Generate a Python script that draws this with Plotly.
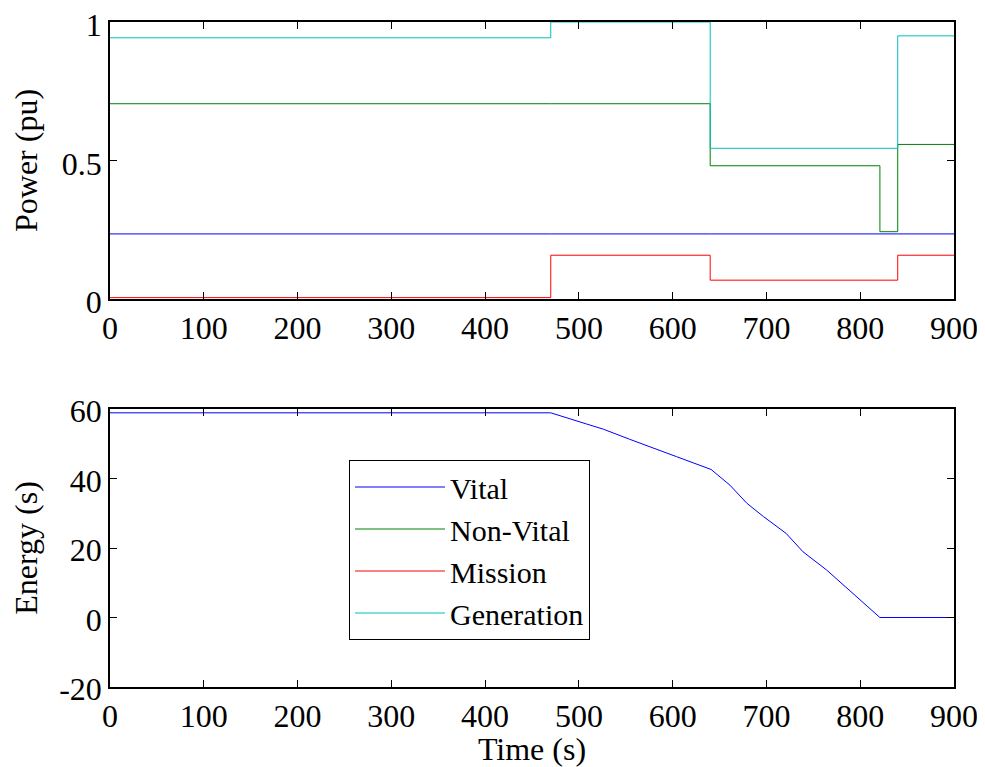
import plotly.graph_objects as go

# ---- data ----
t_steps = [0, 470, 640, 821, 840, 900]
vital = [0.235, 0.235, 0.235, 0.235, 0.235, 0.235]
non_vital = [0.705, 0.705, 0.481, 0.243, 0.558, 0.558]
mission = [0.005, 0.158, 0.068, 0.068, 0.158, 0.158]
generation = [0.943, 1.0, 0.544, 0.544, 0.950, 0.950]

t_energy = [0, 470, 508, 526, 554, 576, 604, 641, 661, 679, 697, 721, 739, 764, 792, 821, 900]
energy = [58.9, 58.9, 55.7, 54.2, 51.3, 49.2, 46.3, 42.6, 38.1, 32.9, 29.0, 24.2, 18.9, 13.7, 7.0, 0.0, 0.0]

x_ticks = [0, 100, 200, 300, 400, 500, 600, 700, 800, 900]
power_ticks = [0, 0.5, 1]
power_tick_text = ["0", "0.5", "1"]
energy_ticks = [-20, 0, 20, 40, 60]
energy_tick_text = ["-20", "0", "20", "40", "60"]

names = ["Vital", "Non-Vital", "Mission", "Generation"]
colors = ["#0000ff", "#008000", "#ff0000", "#00bfbf"]

OFF = 8  # page body margin
W, H = 985 - OFF, 767 - OFF
L, R, T, B = 110 - OFF, 31, 22 - OFF, 80
PH = H - T - B
FONT = "Liberation Serif, Times New Roman, serif"
FS = 32

fig = go.Figure()
for name, vals, col in zip(names, [vital, non_vital, mission, generation], colors):
    fig.add_trace(go.Scatter(x=t_steps, y=vals, mode="lines", name=name,
                             line=dict(color=col, width=1, shape="hv"),
                             xaxis="x", yaxis="y"))
fig.add_trace(go.Scatter(x=t_energy, y=energy, mode="lines", showlegend=False,
                         line=dict(color="#0000ff", width=1),
                         xaxis="x2", yaxis="y2"))

axis_common = dict(showline=True, linecolor="black", linewidth=1.5, mirror="ticks",
                   ticks="inside", ticklen=7, tickcolor="black", showgrid=False,
                   zeroline=False, automargin=False, ticklabeloverflow="allow",
                   tickfont=dict(family=FONT, size=FS, color="black"))

def ydom(top_px, bot_px):
    # pixel positions given in reference-screen coordinates
    top_px -= OFF
    bot_px -= OFF
    return [(H - B - bot_px) / PH, (H - B - top_px) / PH]

fig.update_layout(
    width=W, height=H,
    margin=dict(l=L, r=R, t=T, b=B, autoexpand=False),
    paper_bgcolor="white", plot_bgcolor="white",
    font=dict(family=FONT, size=FS, color="black"),
    showlegend=True,
    xaxis=dict(domain=[0, 1], range=[0, 900], tickvals=x_ticks,
               anchor="y", **axis_common),
    yaxis=dict(domain=ydom(22, 299), range=[0, 1], tickvals=power_ticks,
               ticktext=power_tick_text, anchor="x", ticklabelshift=3,
               title=dict(text="Power (pu)", font=dict(family=FONT, size=FS), standoff=18),
               **axis_common),
    xaxis2=dict(domain=[0, 1], range=[0, 900], tickvals=x_ticks,
                anchor="y2", title=dict(text="Time (s)", font=dict(family=FONT, size=FS), standoff=7),
                **axis_common),
    yaxis2=dict(domain=ydom(409, 687), range=[-20, 60], tickvals=energy_ticks,
                ticktext=energy_tick_text, anchor="x2", ticklabelshift=2,
                title=dict(text="Energy (s)", font=dict(family=FONT, size=FS), standoff=12),
                **axis_common),
    legend=dict(x=(349 - OFF - L) / (W - L - R), y=(H - B - (460 - OFF)) / PH,
                xanchor="left", yanchor="top",
                bordercolor="black", borderwidth=1, bgcolor="white",
                font=dict(family=FONT, size=30, color="black"),
                tracegroupgap=0, itemwidth=90),
)

fig.write_html("out.html")
